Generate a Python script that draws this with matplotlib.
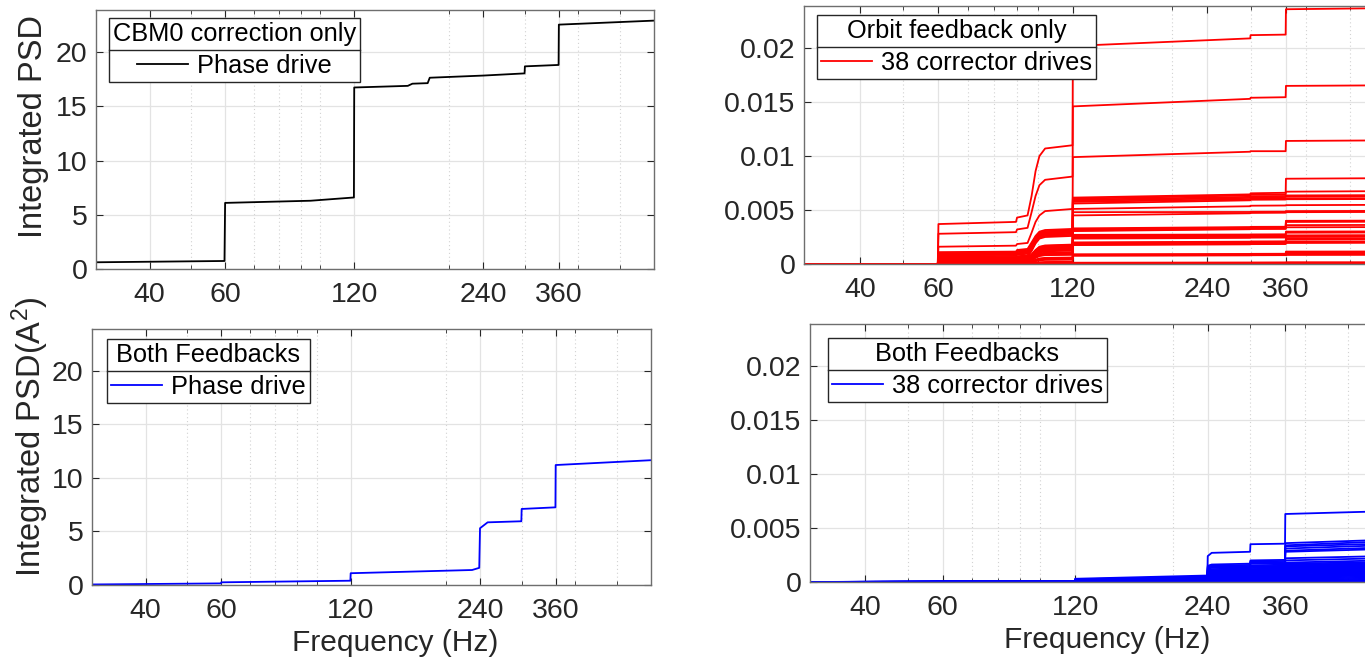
import matplotlib
matplotlib.use("Agg")
import matplotlib.pyplot as plt
from matplotlib.lines import Line2D
from matplotlib.ticker import FixedLocator, FixedFormatter, NullFormatter

W, H = 1365, 665

# x axis (log), shared by all four panels
XLIM = (30, 600)
XTICKS = [40, 60, 120, 240, 360]
XTICK_LABELS = ["40", "60", "120", "240", "360"]
XMINOR = [50, 70, 80, 90, 100, 200, 300, 400, 500]

# left column: phase drive, integrated PSD (A^2)
LEFT_YTICKS = [0, 5, 10, 15, 20]
LEFT_YMAX = 23.9
FREQ_CBM = [30, 59.8, 60, 95, 119.8, 120, 160, 164, 178, 180, 240, 299.5, 300, 359.5, 360, 600]
PSD_CBM = [0.62, 0.74, 6.10, 6.30, 6.60, 16.75, 16.90, 17.10, 17.15, 17.65, 17.85, 18.05, 18.70, 18.83, 22.55, 22.92]
FREQ_PHASE_BOTH = [30, 59.8, 60, 119.8, 120, 230, 239, 240, 250, 299.5, 300, 359.5, 360, 600]
PSD_PHASE_BOTH = [0.05, 0.15, 0.25, 0.40, 1.10, 1.40, 1.60, 5.30, 5.85, 5.95, 7.10, 7.25, 11.20, 11.65]

# right column: 38 corrector drives, values in units of 1e-3 A^2
RIGHT_YTICKS = [0, 0.005, 0.01, 0.015, 0.02]
RIGHT_YTICK_LABELS = ["0", "0.005", "0.01", "0.015", "0.02"]
RIGHT_YMAX = 0.0239
FREQ_ORBIT = [30, 59.8, 60, 89.5, 90, 95, 97, 99, 101, 104, 119.8, 120, 299.5, 300, 359.5, 360, 600]
PSD_ORBIT = [
    [0, 0, 3.70, 3.90, 4.30, 4.50, 6.30, 8.60, 10.00, 10.70, 11.00, 20.20, 20.90, 21.20, 21.25, 23.60, 23.70],
    [0, 0, 2.80, 2.95, 3.20, 3.35, 4.80, 6.30, 7.30, 7.80, 8.10, 14.60, 15.30, 15.40, 15.45, 16.50, 16.55],
    [0, 0, 1.60, 1.70, 1.85, 1.95, 2.90, 3.90, 4.50, 4.90, 5.10, 9.90, 10.40, 10.45, 10.45, 11.40, 11.45],
    [0, 0, 1.10, 1.15, 1.30, 1.40, 2.00, 2.60, 3.00, 3.15, 3.25, 6.15, 6.45, 6.55, 6.60, 7.90, 7.95],
    [0, 0, 1.00, 1.05, 1.20, 1.30, 1.85, 2.50, 2.90, 3.05, 3.15, 6.05, 6.35, 6.42, 6.45, 6.70, 6.75],
    [0, 0, 0.95, 1.00, 1.10, 1.20, 1.75, 2.40, 2.80, 2.95, 3.05, 5.95, 6.22, 6.28, 6.30, 6.35, 6.38],
    [0, 0, 0.85, 0.90, 1.00, 1.10, 1.65, 2.30, 2.75, 2.90, 3.00, 5.85, 6.12, 6.18, 6.20, 6.22, 6.25],
    [0, 0, 0.80, 0.85, 0.95, 1.05, 1.60, 2.25, 2.70, 2.85, 2.95, 5.75, 6.00, 6.03, 6.05, 6.05, 6.08],
    [0, 0, 0.70, 0.75, 0.85, 0.95, 1.50, 2.20, 2.65, 2.80, 2.90, 5.60, 5.90, 5.95, 5.97, 6.00, 6.02],
    [0, 0, 0.60, 0.65, 0.72, 0.80, 1.40, 2.10, 2.55, 2.70, 2.80, 5.10, 5.35, 5.40, 5.42, 5.45, 5.48],
    [0, 0, 0.55, 0.60, 0.66, 0.72, 1.30, 2.00, 2.45, 2.60, 2.70, 4.80, 4.82, 4.84, 4.85, 4.90, 4.92],
    [0, 0, 0.50, 0.54, 0.60, 0.66, 1.20, 1.90, 2.35, 2.50, 2.60, 4.50, 4.70, 4.73, 4.75, 4.80, 4.82],
    [0, 0, 0.45, 0.48, 0.53, 0.58, 0.90, 1.30, 1.60, 1.72, 1.80, 3.30, 3.42, 3.44, 3.45, 4.00, 4.02],
    [0, 0, 0.40, 0.43, 0.48, 0.53, 0.85, 1.25, 1.55, 1.67, 1.75, 3.20, 3.37, 3.39, 3.40, 3.95, 3.97],
    [0, 0, 0.40, 0.42, 0.46, 0.50, 0.82, 1.20, 1.50, 1.62, 1.70, 3.15, 3.32, 3.34, 3.35, 3.90, 3.92],
    [0, 0, 0.35, 0.37, 0.41, 0.45, 0.78, 1.15, 1.45, 1.57, 1.65, 3.10, 3.27, 3.29, 3.30, 3.60, 3.62],
    [0, 0, 0.35, 0.37, 0.40, 0.44, 0.75, 1.10, 1.40, 1.52, 1.60, 3.05, 3.22, 3.24, 3.25, 3.40, 3.42],
    [0, 0, 0.30, 0.32, 0.35, 0.38, 0.68, 1.02, 1.30, 1.42, 1.50, 2.70, 2.73, 2.74, 2.75, 3.00, 3.02],
    [0, 0, 0.30, 0.32, 0.34, 0.37, 0.65, 0.98, 1.25, 1.37, 1.45, 2.60, 2.67, 2.69, 2.70, 2.90, 2.92],
    [0, 0, 0.25, 0.27, 0.30, 0.33, 0.60, 0.94, 1.20, 1.32, 1.40, 2.50, 2.57, 2.59, 2.60, 2.65, 2.67],
    [0, 0, 0.25, 0.27, 0.29, 0.32, 0.57, 0.88, 1.12, 1.23, 1.30, 2.45, 2.52, 2.54, 2.55, 2.60, 2.62],
    [0, 0, 0.20, 0.22, 0.25, 0.28, 0.53, 0.84, 1.06, 1.17, 1.25, 2.35, 2.42, 2.44, 2.45, 2.50, 2.52],
    [0, 0, 0.20, 0.21, 0.23, 0.26, 0.48, 0.76, 0.96, 1.05, 1.10, 2.00, 2.07, 2.09, 2.10, 2.35, 2.37],
    [0, 0, 0.15, 0.16, 0.18, 0.21, 0.44, 0.72, 0.91, 1.00, 1.05, 1.95, 2.02, 2.04, 2.05, 2.30, 2.32],
    [0, 0, 0.15, 0.16, 0.18, 0.20, 0.42, 0.68, 0.87, 0.95, 1.00, 1.90, 1.97, 1.99, 2.00, 2.25, 2.27],
    [0, 0, 0.15, 0.16, 0.17, 0.19, 0.40, 0.65, 0.83, 0.91, 0.95, 1.85, 1.92, 1.94, 1.95, 2.05, 2.07],
    [0, 0, 0.10, 0.11, 0.13, 0.15, 0.36, 0.60, 0.78, 0.86, 0.90, 1.80, 1.87, 1.89, 1.90, 2.00, 2.02],
    [0, 0, 0.10, 0.11, 0.12, 0.14, 0.34, 0.57, 0.74, 0.82, 0.85, 1.75, 1.82, 1.84, 1.85, 1.95, 1.97],
    [0, 0, 0.10, 0.11, 0.12, 0.13, 0.25, 0.40, 0.51, 0.57, 0.60, 0.90, 0.93, 0.94, 0.95, 1.15, 1.16],
    [0, 0, 0.08, 0.09, 0.10, 0.11, 0.22, 0.36, 0.47, 0.52, 0.55, 0.85, 0.88, 0.89, 0.90, 1.05, 1.06],
    [0, 0, 0.08, 0.08, 0.09, 0.10, 0.20, 0.33, 0.43, 0.48, 0.50, 0.82, 0.85, 0.86, 0.87, 0.95, 0.96],
    [0, 0, 0.06, 0.06, 0.07, 0.08, 0.17, 0.29, 0.38, 0.43, 0.45, 0.80, 0.83, 0.84, 0.85, 0.90, 0.91],
    [0, 0, 0.05, 0.05, 0.06, 0.07, 0.15, 0.26, 0.34, 0.38, 0.40, 0.78, 0.80, 0.81, 0.82, 0.85, 0.86],
    [0, 0, 0.04, 0.04, 0.05, 0.06, 0.09, 0.14, 0.17, 0.19, 0.20, 0.80, 0.82, 0.83, 0.84, 0.88, 0.89],
    [0, 0, 0.03, 0.03, 0.04, 0.04, 0.06, 0.08, 0.09, 0.10, 0.10, 0.12, 0.14, 0.14, 0.15, 0.16, 0.16],
    [0, 0, 0.02, 0.02, 0.02, 0.03, 0.04, 0.05, 0.06, 0.06, 0.06, 0.08, 0.10, 0.10, 0.10, 0.11, 0.11],
    [0, 0, 0.01, 0.01, 0.01, 0.01, 0.02, 0.02, 0.03, 0.03, 0.03, 0.04, 0.05, 0.05, 0.05, 0.06, 0.06],
    [0, 0, 0.005, 0.005, 0.005, 0.005, 0.006, 0.008, 0.009, 0.01, 0.01, 0.02, 0.03, 0.03, 0.03, 0.035, 0.035],
]
FREQ_BOTH = [30, 119.8, 120, 239.5, 240, 245, 299.5, 300, 359.5, 360, 600]
PSD_BOTH = [
    [0, 0.10, 0.30, 0.60, 2.40, 2.70, 2.80, 3.50, 3.55, 6.30, 6.55],
    [0, 0.08, 0.25, 0.50, 1.50, 1.62, 1.70, 2.00, 2.05, 3.60, 3.90],
    [0, 0.07, 0.22, 0.45, 1.40, 1.52, 1.58, 1.90, 1.95, 3.40, 3.75],
    [0, 0.07, 0.20, 0.42, 1.30, 1.42, 1.48, 1.80, 1.85, 3.30, 3.55],
    [0, 0.06, 0.18, 0.40, 1.20, 1.32, 1.38, 1.70, 1.75, 3.10, 3.40],
    [0, 0.06, 0.17, 0.38, 1.10, 1.20, 1.26, 1.55, 1.60, 2.90, 3.20],
    [0, 0.05, 0.16, 0.35, 1.00, 1.10, 1.16, 1.45, 1.50, 2.80, 3.05],
    [0, 0.05, 0.15, 0.33, 0.95, 1.04, 1.10, 1.40, 1.45, 2.20, 2.40],
    [0, 0.05, 0.14, 0.31, 0.90, 0.98, 1.04, 1.30, 1.35, 2.00, 2.20],
    [0, 0.04, 0.13, 0.29, 0.85, 0.93, 0.98, 1.20, 1.25, 1.80, 2.00],
    [0, 0.04, 0.12, 0.27, 0.80, 0.87, 0.92, 1.15, 1.18, 1.70, 1.85],
    [0, 0.04, 0.11, 0.26, 0.75, 0.82, 0.87, 1.10, 1.12, 1.60, 1.75],
    [0, 0.03, 0.10, 0.24, 0.70, 0.77, 0.82, 1.05, 1.07, 1.55, 1.70],
    [0, 0.03, 0.10, 0.23, 0.65, 0.72, 0.77, 1.00, 1.02, 1.50, 1.65],
    [0, 0.03, 0.09, 0.22, 0.60, 0.67, 0.72, 0.95, 0.97, 1.45, 1.60],
    [0, 0.03, 0.09, 0.21, 0.55, 0.62, 0.67, 0.90, 0.92, 1.40, 1.55],
    [0, 0.02, 0.08, 0.20, 0.52, 0.58, 0.63, 0.85, 0.87, 1.35, 1.50],
    [0, 0.02, 0.08, 0.19, 0.48, 0.54, 0.59, 0.80, 0.82, 1.30, 1.45],
    [0, 0.02, 0.07, 0.18, 0.45, 0.50, 0.55, 0.75, 0.77, 1.25, 1.40],
    [0, 0.02, 0.07, 0.17, 0.42, 0.47, 0.52, 0.70, 0.72, 1.20, 1.35],
    [0, 0.02, 0.06, 0.16, 0.39, 0.44, 0.48, 0.66, 0.68, 1.15, 1.30],
    [0, 0.02, 0.06, 0.15, 0.36, 0.41, 0.45, 0.62, 0.64, 1.10, 1.25],
    [0, 0.01, 0.05, 0.14, 0.33, 0.38, 0.42, 0.58, 0.60, 1.05, 1.20],
    [0, 0.01, 0.05, 0.13, 0.30, 0.35, 0.39, 0.54, 0.56, 1.00, 1.15],
    [0, 0.01, 0.05, 0.12, 0.28, 0.32, 0.36, 0.50, 0.52, 0.95, 1.10],
    [0, 0.01, 0.04, 0.11, 0.26, 0.30, 0.33, 0.46, 0.48, 0.90, 1.05],
    [0, 0.01, 0.04, 0.10, 0.24, 0.27, 0.30, 0.42, 0.44, 0.85, 0.98],
    [0, 0.01, 0.04, 0.09, 0.22, 0.25, 0.28, 0.38, 0.40, 0.80, 0.92],
    [0, 0.01, 0.03, 0.08, 0.20, 0.23, 0.26, 0.35, 0.37, 0.70, 0.85],
    [0, 0.01, 0.03, 0.07, 0.18, 0.21, 0.23, 0.32, 0.34, 0.62, 0.75],
    [0, 0.01, 0.03, 0.06, 0.16, 0.18, 0.20, 0.29, 0.31, 0.55, 0.68],
    [0, 0.00, 0.02, 0.05, 0.14, 0.16, 0.18, 0.26, 0.28, 0.48, 0.60],
    [0, 0.00, 0.02, 0.05, 0.12, 0.14, 0.16, 0.22, 0.24, 0.40, 0.50],
    [0, 0.00, 0.02, 0.04, 0.10, 0.12, 0.13, 0.18, 0.20, 0.32, 0.40],
    [0, 0.00, 0.01, 0.03, 0.08, 0.09, 0.10, 0.14, 0.15, 0.24, 0.30],
    [0, 0.00, 0.01, 0.02, 0.06, 0.07, 0.08, 0.10, 0.11, 0.16, 0.20],
    [0, 0.00, 0.01, 0.02, 0.04, 0.05, 0.05, 0.07, 0.08, 0.10, 0.12],
    [0, 0.00, 0.00, 0.01, 0.02, 0.02, 0.03, 0.04, 0.04, 0.05, 0.06],
]

INK = "#262626"
TICK_FS, YLABEL_FS, XLABEL_FS, LEGEND_FS = 20.5, 23.5, 21.5, 18.3
plt.rcParams["font.family"] = ["Liberation Sans", "DejaVu Sans"]
plt.rcParams["mathtext.default"] = "regular"

fig = plt.figure(figsize=(W / 100, H / 100), dpi=100)
fig.patch.set_facecolor("white")


def axes_px(left, top, right, bottom):
    return fig.add_axes([left / W, 1 - bottom / H, (right - left) / W, (bottom - top) / H])


def style(ax, ymax, yticks, ylabels):
    ax.set_xscale("log")
    ax.set_xlim(*XLIM)
    ax.set_ylim(0, ymax)
    ax.xaxis.set_major_locator(FixedLocator(XTICKS))
    ax.xaxis.set_major_formatter(FixedFormatter(XTICK_LABELS))
    ax.xaxis.set_minor_locator(FixedLocator(XMINOR))
    ax.xaxis.set_minor_formatter(NullFormatter())
    ax.set_yticks(yticks)
    ax.set_yticklabels(ylabels)
    ax.set_axisbelow(True)
    ax.grid(which="major", color="#e3e3e3", lw=0.9, ls="-")
    ax.grid(which="minor", axis="x", color="#d2d2d2", lw=0.8, ls=(0, (1, 2.5)))
    ax.tick_params(which="both", direction="in", top=True, right=True,
                   colors=INK, labelsize=TICK_FS)
    ax.tick_params(axis="x", which="both", pad=9.5)
    ax.tick_params(axis="y", which="both", pad=6)
    ax.tick_params(which="major", length=5, width=0.8)
    ax.tick_params(which="minor", length=3, width=0.6)
    for sp in ax.spines.values():
        sp.set_color("#6e6e6e")
        sp.set_linewidth(1.0)


def legend(ax, handle, label, title, dx, dy, w, h):
    leg = ax.legend([handle], [label], title=title, loc="upper left",
                    bbox_to_anchor=(dx / w, 1 - dy / h), borderaxespad=0,
                    fontsize=LEGEND_FS, title_fontsize=LEGEND_FS, alignment="center",
                    frameon=True, fancybox=False, framealpha=1, edgecolor=INK,
                    borderpad=0.16, labelspacing=0.3, handlelength=2.0,
                    handletextpad=0.35)
    leg.get_frame().set_linewidth(1.0)
    return leg


ax_tl = axes_px(96, 10, 654, 269)
ax_tr = axes_px(804, 6, 1385, 264)
ax_bl = axes_px(92, 329, 651, 585)
ax_br = axes_px(810, 324, 1383, 582)

# top left: CBM0 correction only
style(ax_tl, LEFT_YMAX, LEFT_YTICKS, [str(v) for v in LEFT_YTICKS])
l_tl, = ax_tl.plot(FREQ_CBM, PSD_CBM, color="black", lw=1.3)
ax_tl.set_ylabel("Integrated PSD", fontsize=YLABEL_FS, color=INK)
ax_tl.yaxis.set_label_coords(-0.084, 0.55)
leg_tl = legend(ax_tl, l_tl, "Phase drive", "CBM0 correction only", 13, 8, 558, 259)

# top right: orbit feedback only
style(ax_tr, RIGHT_YMAX, RIGHT_YTICKS, RIGHT_YTICK_LABELS)
for row in PSD_ORBIT:
    l_tr, = ax_tr.plot(FREQ_ORBIT, [v * 1e-3 for v in row], color="red", lw=1.3)
leg_tr = legend(ax_tr, l_tr, "38 corrector drives", "Orbit feedback only", 13, 9, 581, 258)

# bottom left: both feedbacks, phase drive
style(ax_bl, LEFT_YMAX, LEFT_YTICKS, [str(v) for v in LEFT_YTICKS])
l_bl, = ax_bl.plot(FREQ_PHASE_BOTH, PSD_PHASE_BOTH, color="blue", lw=1.3)
ax_bl.set_ylabel("Integrated PSD(A$^2$)", fontsize=YLABEL_FS, color=INK)
ax_bl.yaxis.set_label_coords(-0.074, 0.58)
ax_bl.set_xlabel("Frequency (Hz)", fontsize=XLABEL_FS, color=INK)
ax_bl.xaxis.set_label_coords(0.542, -0.17)
leg_bl = legend(ax_bl, l_bl, "Phase drive", "Both Feedbacks", 15, 10, 559, 256)

# bottom right: both feedbacks, corrector drives
style(ax_br, RIGHT_YMAX, RIGHT_YTICKS, RIGHT_YTICK_LABELS)
for row in PSD_BOTH:
    l_br, = ax_br.plot(FREQ_BOTH, [v * 1e-3 for v in row], color="blue", lw=1.3)
ax_br.set_xlabel("Frequency (Hz)", fontsize=XLABEL_FS, color=INK)
ax_br.xaxis.set_label_coords(0.518, -0.17)
leg_br = legend(ax_br, l_br, "38 corrector drives", "Both Feedbacks", 18, 14, 573, 258)

# MATLAB-style rule between legend title and entry
fig.canvas.draw()
rend = fig.canvas.get_renderer()
inv = fig.transFigure.inverted()
for leg in (leg_tl, leg_tr, leg_bl, leg_br):
    frame = leg.get_frame().get_window_extent(rend)
    tb = leg.get_title().get_window_extent(rend)
    eb = leg.get_texts()[0].get_window_extent(rend)
    y = (tb.y0 + eb.y1) / 2
    (x0, yf), (x1, _) = inv.transform([(frame.x0, y), (frame.x1, y)])
    fig.add_artist(Line2D([x0, x1], [yf, yf], transform=fig.transFigure,
                          color=INK, lw=1.0, zorder=10))

fig.savefig("out.png", dpi=100, facecolor="white")
